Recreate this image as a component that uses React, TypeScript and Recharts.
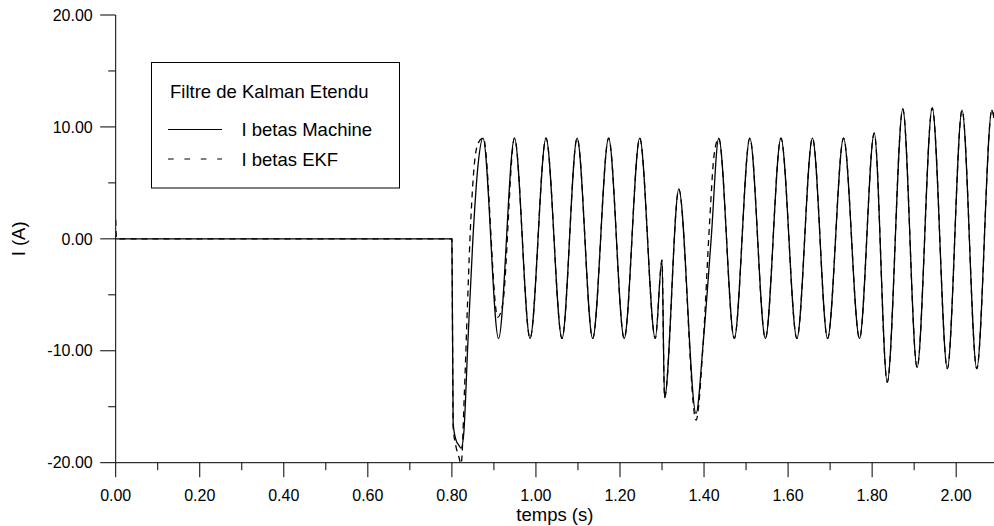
import { LineChart, Line, XAxis, YAxis, Legend, Label } from 'recharts';

// temps (s) / courant (A)
const machineTime = [0, 0.8, 0.803, 0.81, 0.816, 0.822, 0.828, 0.838, 0.85, 0.862, 0.874, 0.911, 0.949, 0.986, 1.024, 1.062, 1.098, 1.135, 1.173, 1.21, 1.247, 1.284, 1.3, 1.306, 1.34, 1.381, 1.398, 1.417, 1.435, 1.472, 1.509, 1.546, 1.583, 1.621, 1.658, 1.694, 1.732, 1.77, 1.805, 1.836, 1.873, 1.907, 1.943, 1.979, 2.014, 2.049, 2.085, 2.09];
const machineCurrent = [0, 0, -16.5, -18.0, -18.4, -18.7, -17.5, -9.3, 0, 6.5, 9.0, -8.9, 9.0, -8.9, 9.0, -8.9, 9.0, -8.9, 9.0, -8.9, 9.0, -8.9, -1.9, -14.2, 4.45, -15.6, -9.3, 0, 9.0, -8.9, 9.0, -8.9, 9.0, -8.9, 9.0, -8.9, 9.0, -8.9, 9.45, -12.8, 11.6, -11.5, 11.7, -11.6, 11.5, -11.6, 11.5, 10.8];

const ekfTime = [0, 0.002, 0.8, 0.803, 0.81, 0.816, 0.822, 0.83, 0.837, 0.843, 0.853, 0.863, 0.875, 0.909, 0.921, 0.949, 0.986, 1.024, 1.062, 1.098, 1.135, 1.173, 1.21, 1.247, 1.284, 1.3, 1.306, 1.34, 1.381, 1.398, 1.413, 1.424, 1.435, 1.472, 1.509, 1.546, 1.583, 1.621, 1.658, 1.694, 1.732, 1.77, 1.805, 1.836, 1.873, 1.907, 1.943, 1.979, 2.014, 2.049, 2.085, 2.09];
const ekfCurrent = [1.7, 0, 0, -16.8, -18.6, -19.4, -20.1, -13.5, -6, 0, 6.5, 8.6, 9.0, -7.0, -5.8, 9.0, -8.9, 9.0, -8.9, 9.0, -8.9, 9.0, -8.9, 9.0, -8.9, -1.9, -14.2, 4.45, -16.2, -9.3, 1.3, 7.5, 9.0, -8.9, 9.0, -8.9, 9.0, -8.9, 9.0, -8.9, 9.0, -8.9, 9.45, -12.8, 11.6, -11.5, 11.7, -11.6, 11.5, -11.6, 11.5, 10.8];

const xTicks = [0, 0.1, 0.2, 0.3, 0.4, 0.5, 0.6, 0.7, 0.8, 0.9, 1.0, 1.1, 1.2, 1.3, 1.4, 1.5, 1.6, 1.7, 1.8, 1.9, 2.0];
const yTicks = [-20, -15, -10, -5, 0, 5, 10, 15, 20];
const legendOrder = ['I betas Machine', 'I betas EKF'];

const machineData = machineTime.map((t, k) => ({ t, i: machineCurrent[k] }));
const ekfData = ekfTime.map((t, k) => ({ t, i: ekfCurrent[k] }));

const FONT = '"Liberation Sans", Arial, Helvetica, sans-serif';

function XTick({ x, y, payload }: any) {
  const v = payload.value;
  const major = Math.round(v * 10) % 2 === 0;
  return (
    <g>
      <line x1={x} x2={x} y1={y} y2={y + (major ? 14.5 : 7.5)} stroke="#000" />
      {major && (
        <text x={x} y={y + 38} textAnchor="middle" fontSize={16} fontFamily={FONT} fill="#000">
          {v.toFixed(2)}
        </text>
      )}
    </g>
  );
}

function YTick({ x, y, payload }: any) {
  const v = payload.value;
  const major = v % 10 === 0;
  return (
    <g>
      <line x1={x - (major ? 15.5 : 7.5)} x2={x} y1={y} y2={y} stroke="#000" />
      {major && (
        <text x={x - 23} y={y + 5.7} textAnchor="end" fontSize={16} fontFamily={FONT} fill="#000">
          {v.toFixed(2)}
        </text>
      )}
    </g>
  );
}

function LegendBox({ payload }: any) {
  const items = [...(payload || [])].sort(
    (a: any, b: any) => legendOrder.indexOf(a.value) - legendOrder.indexOf(b.value)
  );
  return (
    <svg width={250} height={128} style={{ display: 'block' }}>
      <rect x={0.5} y={0.5} width={248} height={125.5} fill="#fff" stroke="#000" />
      <text x={19} y={35.5} fontSize={18.5} fontFamily={FONT} fill="#000">
        Filtre de Kalman Etendu
      </text>
      {items.map((entry: any, k: number) => {
        const dashed = entry.value === 'I betas EKF';
        return (
          <g key={entry.value}>
            <line
              x1={17} x2={71} y1={67.5 + k * 29.5} y2={67.5 + k * 29.5}
              stroke="#000" strokeDasharray={dashed ? '5.7 10.7' : undefined}
            />
            <text x={90.5} y={74 + k * 30} fontSize={18.5} fontFamily={FONT} fill="#000">
              {entry.value}
            </text>
          </g>
        );
      })}
    </svg>
  );
}

export default function App() {
  return (
    <div style={{ position: 'absolute', left: 0, top: 0, width: 994, height: 526, background: '#fff' }}>
      <LineChart width={994} height={526} margin={{ top: 15, right: 0, bottom: 0, left: 0 }}>
        <XAxis
          dataKey="t" type="number" domain={[0, 2.09]} allowDataOverflow ticks={xTicks} interval={0}
          height={63.3} tickSize={0} tickMargin={0} tickLine={false} tick={<XTick />}
          axisLine={{ stroke: '#000' }}
        >
          <Label value="temps (s)" position="insideBottom" offset={5.5} fontSize={18.5} fontFamily={FONT} fill="#000" />
        </XAxis>
        <YAxis
          type="number" domain={[-20, 20]} allowDataOverflow ticks={yTicks} interval={0}
          width={115.7} tickSize={0} tickMargin={0} tickLine={false} tick={<YTick />}
          axisLine={{ stroke: '#000' }}
        >
          <Label
            content={({ viewBox }: any) => {
              const cy = viewBox.y + viewBox.height / 2;
              return (
                <text x={25} y={cy} transform={`rotate(-90, 25, ${cy})`} textAnchor="middle" fontSize={18.5} fontFamily={FONT} fill="#000">
                  I (A)
                </text>
              );
            }}
          />
        </YAxis>
        <Legend
          layout="vertical" align="center" verticalAlign="middle"
          wrapperStyle={{ left: 150.5, top: 62, width: 250, height: 128 }}
          content={<LegendBox />}
        />
        <Line
          data={machineData} dataKey="i" name="I betas Machine" type="monotone" stroke="#000" strokeWidth={1.3}
          dot={false} activeDot={false} legendType="line" isAnimationActive={false}
        />
        <Line
          data={ekfData} dataKey="i" name="I betas EKF" type="monotone" stroke="#000" strokeWidth={1.3}
          strokeDasharray="6 5" dot={false} activeDot={false} legendType="line" isAnimationActive={false}
        />
      </LineChart>
    </div>
  );
}
